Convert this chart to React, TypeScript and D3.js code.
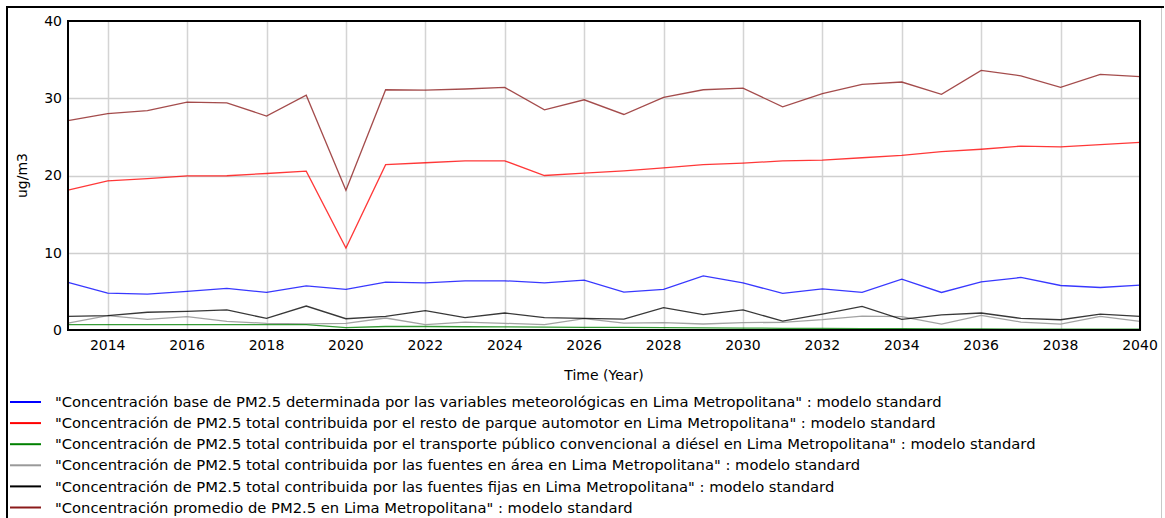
import React from "react";
import * as d3 from "d3";

const years = d3.range(2013, 2041);
const base = [6.15, 4.77, 4.65, 5.0, 5.4, 4.86, 5.7, 5.25, 6.2, 6.1, 6.37, 6.37, 6.1, 6.45, 4.9, 5.25, 7.0, 6.1, 4.73, 5.33, 4.86, 6.58, 4.86, 6.23, 6.8, 5.76, 5.5, 5.8];
const resto = [18.1, 19.3, 19.6, 19.96, 19.97, 20.26, 20.56, 10.6, 21.4, 21.65, 21.9, 21.9, 20.0, 20.3, 20.6, 21.0, 21.4, 21.6, 21.9, 22.0, 22.3, 22.6, 23.1, 23.4, 23.8, 23.7, 24.0, 24.3];
const transporte = [0.7, 0.7, 0.7, 0.7, 0.7, 0.7, 0.7, 0.3, 0.45, 0.45, 0.42, 0.4, 0.38, 0.35, 0.33, 0.3, 0.28, 0.25, 0.22, 0.2, 0.18, 0.16, 0.15, 0.13, 0.12, 0.11, 0.1, 0.1];
const area = [0.9, 1.85, 1.38, 1.72, 1.12, 0.86, 0.8, 0.86, 1.55, 0.69, 1.03, 0.86, 0.69, 1.46, 0.9, 0.95, 0.78, 0.95, 1.0, 1.33, 1.8, 1.72, 0.77, 1.9, 1.03, 0.77, 1.77, 1.12];
const fijas = [1.77, 1.85, 2.3, 2.4, 2.6, 1.5, 3.1, 1.46, 1.77, 2.5, 1.6, 2.2, 1.6, 1.5, 1.4, 2.9, 2.0, 2.6, 1.16, 2.06, 3.06, 1.38, 1.97, 2.2, 1.5, 1.33, 2.06, 1.77];
const promedio = [27.1, 28.0, 28.4, 29.5, 29.4, 27.7, 30.4, 18.1, 31.1, 31.05, 31.2, 31.4, 28.5, 29.8, 27.9, 30.1, 31.1, 31.3, 28.9, 30.6, 31.8, 32.1, 30.5, 33.6, 32.9, 31.4, 33.1, 32.8];

const xTicks = [2014, 2016, 2018, 2020, 2022, 2024, 2026, 2028, 2030, 2032, 2034, 2036, 2038, 2040];
const yTicks = [0, 10, 20, 30, 40];

const seriesNames = [
  "\"Concentración base de PM2.5 determinada por las variables meteorológicas en Lima Metropolitana\" : modelo standard",
  "\"Concentración de PM2.5 total contribuida por el resto de parque automotor en Lima Metropolitana\" : modelo standard",
  "\"Concentración de PM2.5 total contribuida por el transporte público convencional a diésel en Lima Metropolitana\" : modelo standard",
  "\"Concentración de PM2.5 total contribuida por las fuentes en área en Lima Metropolitana\" : modelo standard",
  "\"Concentración de PM2.5 total contribuida por las fuentes fijas en Lima Metropolitana\" : modelo standard",
  "\"Concentración promedio de PM2.5 en Lima Metropolitana\" : modelo standard",
];
const seriesValues = [base, resto, transporte, area, fijas, promedio];
const seriesColors = ["#0000ff", "#ff0000", "#008000", "#999999", "#000000", "#8b1a1a"];
const drawOrder = [3, 4, 0, 1, 5, 2];

export default function App() {
  const W = 1165, H = 518;
  const left = 68, right = 1140, top = 21, bottom = 330;
  const x = d3.scaleLinear().domain([2013, 2040]).range([left, right]);
  const y = d3.scaleLinear().domain([0, 40]).range([bottom, top]);
  const line = d3.line<number>().x((_, i) => x(years[i])).y((d) => y(d));
  const font = "'DejaVu Sans', Verdana, sans-serif";
  return (
    <svg width={W} height={H} style={{ position: "absolute", left: 0, top: 0 }} fontFamily={font}>
      <rect x={0} y={0} width={W} height={H} fill="#fff" />
      <line x1={7} y1={7} x2={1164} y2={7} stroke="#000" strokeWidth={2} />
      <line x1={7} y1={6} x2={7} y2={H} stroke="#000" strokeWidth={2} />
      <line x1={1161.5} y1={8} x2={1161.5} y2={H} stroke="#c8c8c8" strokeWidth={1} />
      {xTicks.map((t) => (
        <line key={"gx" + t} x1={Math.round(x(t)) + 0.5} x2={Math.round(x(t)) + 0.5} y1={top} y2={bottom} stroke="#d4d4d4" strokeWidth={1.5} />
      ))}
      {yTicks.slice(1, -1).map((t) => (
        <line key={"gy" + t} x1={left} x2={right} y1={Math.round(y(t)) + 0.5} y2={Math.round(y(t)) + 0.5} stroke="#cfcfcf" strokeWidth={1.5} />
      ))}
      {drawOrder.map((i) => (
        <path key={"s" + i} d={line(seriesValues[i]) || ""} fill="none" stroke={seriesColors[i]} strokeWidth={1.3} strokeOpacity={i === 3 ? 0.9 : 0.78} />
      ))}
      <rect x={left} y={top} width={right - left} height={bottom - top} fill="none" stroke="#000" strokeWidth={2} />
      {yTicks.map((t) => (
        <text key={"ty" + t} x={62} y={y(t)} dy="0.35em" textAnchor="end" fontSize={14} fill="#000">{t}</text>
      ))}
      {xTicks.map((t) => (
        <text key={"tx" + t} x={x(t)} y={345} dy="0.35em" textAnchor="middle" fontSize={14} fill="#000">{t}</text>
      ))}
      <text x={(left + right) / 2} y={375} dy="0.35em" textAnchor="middle" fontSize={14} fill="#000">Time (Year)</text>
      <text transform={`translate(22, ${(top + bottom) / 2}) rotate(-90)`} textAnchor="middle" dy="0.35em" fontSize={14} fill="#000">ug/m3</text>
      {seriesNames.map((name, i) => {
        const yy = 402 + i * 21.1;
        return (
          <g key={"lg" + i}>
            <line x1={10} x2={41} y1={yy} y2={yy} stroke={seriesColors[i]} strokeWidth={2} />
            <text x={55} y={yy} dy="0.35em" fontSize={14.75} fill="#000">{name}</text>
          </g>
        );
      })}
    </svg>
  );
}
